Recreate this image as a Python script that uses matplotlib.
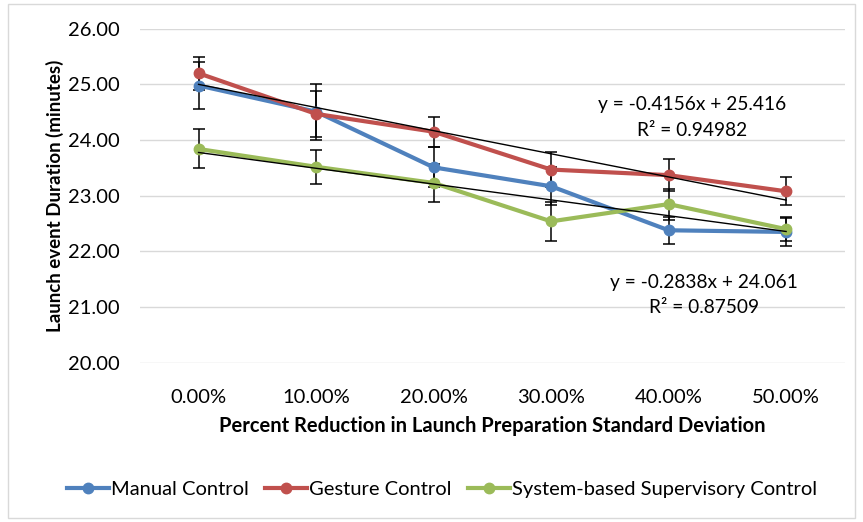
import numpy as np
import matplotlib.pyplot as plt
from matplotlib.patches import Rectangle

plt.rcParams['font.family'] = ['Lato', 'DejaVu Sans']

categories = ['0.00%', '10.00%', '20.00%', '30.00%', '40.00%', '50.00%']

manual = [24.98, 24.51, 23.51, 23.17, 22.38, 22.35]
manual_err = [0.43, 0.50, 0.36, 0.34, 0.24, 0.25]

gesture = [25.20, 24.47, 24.15, 23.47, 23.37, 23.08]
gesture_err = [0.30, 0.42, 0.27, 0.32, 0.29, 0.25]

supervisory = [23.84, 23.52, 23.23, 22.54, 22.85, 22.40]
supervisory_err = [0.35, 0.31, 0.34, 0.35, 0.28, 0.22]

# trendlines as printed on the chart (x = 1..6)
gesture_fit = (-0.4156, 25.416, 0.94982)
supervisory_fit = (-0.2838, 24.061, 0.87509)

colors = ['#4F81BD', '#C0504D', '#9BBB59']
labels = ['Manual Control', 'Gesture Control', 'System-based Supervisory Control']

fig = plt.figure(figsize=(8.63, 5.22), dpi=100)
fig.patches.append(Rectangle((8 / 863, 4 / 522), 847 / 863, 514 / 522,
                             transform=fig.transFigure, fill=False,
                             edgecolor='#d9d9d9', linewidth=1))
ax = fig.add_axes([0.162, 0.305, 0.817, 0.64])

x = np.arange(len(categories))
series = [(manual, manual_err), (gesture, gesture_err), (supervisory, supervisory_err)]
for (vals, err), c, lab in zip(series, colors, labels):
    ax.errorbar(x, vals, yerr=err, fmt='none', ecolor='black', elinewidth=1.1,
                capsize=4.5, capthick=1.1, zorder=2)
    ax.plot(x, vals, color=c, linewidth=3, marker='o', markersize=7.5,
            label=lab, zorder=3)

for slope, inter, r2 in [gesture_fit, supervisory_fit]:
    ax.plot(x, slope * (x + 1) + inter, color='black', linewidth=1, zorder=4)

eq_fs = 13.8
ax.text(4.2, 24.63, 'y = -0.4156x + 25.416', ha='center', va='center', fontsize=eq_fs)
ax.text(4.2, 24.18, 'R² = 0.94982', ha='center', va='center', fontsize=eq_fs)
ax.text(4.3, 21.45, 'y = -0.2838x + 24.061', ha='center', va='center', fontsize=eq_fs)
ax.text(4.3, 21.0, 'R² = 0.87509', ha='center', va='center', fontsize=eq_fs)

ax.set_xlim(-0.5, 5.5)
ax.set_ylim(20, 26)
ax.set_yticks(np.arange(20, 26.5, 1))
ax.set_yticklabels(['%.2f' % v for v in np.arange(20, 26.5, 1)])
ax.set_xticks(x)
ax.set_xticklabels(categories)
ax.tick_params(length=0, labelsize=14.5)
ax.tick_params(axis='x', pad=19)
ax.tick_params(axis='y', pad=14.4)
ax.grid(axis='y', color='#d9d9d9', linewidth=1)
ax.set_axisbelow(True)
for s in ax.spines.values():
    s.set_visible(False)

ax.set_xlabel('Percent Reduction in Launch Preparation Standard Deviation',
              fontsize=14.5, fontweight='bold', labelpad=7)
ax.set_ylabel('Launch event Duration (minutes)', fontsize=13.5, fontweight='bold',
              va='center')
ax.yaxis.set_label_coords(-0.12, 0.5)

fig.legend(loc='center', bbox_to_anchor=(0.512, 0.062), ncol=3, frameon=False,
           fontsize=14.5, handlelength=2.1, handletextpad=0.1, columnspacing=0.8)

fig.savefig('out.png', dpi=100)
